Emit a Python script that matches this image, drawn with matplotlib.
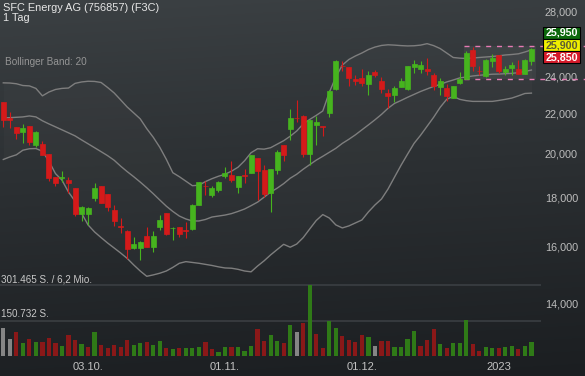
import matplotlib
matplotlib.use("Agg")
import matplotlib.pyplot as plt
import numpy as np
from matplotlib.patches import Rectangle
from matplotlib.ticker import FixedLocator, FuncFormatter, NullLocator

plt.rcParams['font.family'] = ['Liberation Sans', 'DejaVu Sans']

# daily candles, SFC Energy AG (F3C), mid Sept 2022 - early Jan 2023
open_ = [22580, 21720, 21270, 21030, 21330, 20380, 20420, 19950, 18880, 18860,
         18770, 18420, 17290, 17300, 17980, 18500, 18150, 17470, 16800, 16620,
         15970, 15970, 16430, 16010, 16790, 17340, 16720, 16780, 16660, 16710,
         17680, 18510, 18110, 18320, 18930, 18980, 18460, 18990, 19080, 19770,
         19210, 18190, 19200, 20380, 21180, 21760, 21830, 19950, 21370, 21320,
         22000, 23270, 24600, 24520, 23870, 23940, 23550, 24280, 23730, 23070,
         22960, 23420, 23310, 24520, 24440, 24460, 24060, 23400, 23340, 22800,
         23620, 23870, 25590, 24340, 24000, 24930, 25230, 24250, 24480, 24460,
         24150, 24930]
high = [22600, 22060, 21280, 21420, 21340, 21080, 20570, 19960, 18890, 19150,
        18880, 18430, 17650, 17590, 18610, 18510, 18160, 17660, 17130, 16640,
        16380, 16210, 16780, 16620, 17260, 17350, 16790, 16790, 16970, 17700,
        18680, 18720, 18500, 18720, 19330, 19650, 18940, 19250, 19910, 19780,
        19430, 19250, 20140, 20390, 22230, 22670, 21880, 21630, 21840, 21330,
        23220, 24990, 24930, 24530, 24110, 24440, 24290, 24380, 23980, 23310,
        23440, 23930, 24580, 24970, 24890, 25090, 24210, 23930, 23550, 23460,
        24270, 25530, 25730, 24590, 25000, 25330, 25240, 24590, 24850, 24990,
        25000, 25680]
low = [21280, 21220, 20700, 20510, 20380, 20270, 19900, 18710, 18480, 18680,
       18200, 17220, 17030, 16860, 17840, 17760, 17440, 16830, 16550, 15550,
       15910, 15510, 16000, 15820, 16660, 16470, 16270, 16380, 16330, 16660,
       17670, 18100, 18030, 18240, 18830, 18680, 18170, 18650, 19070, 17890,
       18030, 17400, 19010, 19650, 20630, 21520, 19820, 19430, 20410, 20830,
       21790, 23260, 24340, 23490, 23530, 23490, 22980, 23980, 23090, 22280,
       22580, 23410, 23220, 24210, 24210, 24060, 23250, 22940, 22630, 22790,
       23590, 23860, 24340, 24070, 23990, 24530, 24210, 24060, 24100, 24140,
       24140, 24690]
close = [21660, 21650, 20980, 21220, 20540, 21030, 19920, 18830, 18640, 18890,
         18640, 17300, 17590, 17560, 18420, 17770, 17580, 17030, 16780, 15920,
         16100, 16200, 16010, 16430, 17060, 16500, 16730, 16500, 16630, 17680,
         18670, 18490, 18400, 18670, 19080, 18760, 18930, 18960, 19900, 19160,
         18140, 19250, 20060, 19900, 21740, 21740, 19950, 21620, 21520, 21300,
         23210, 24890, 24580, 23900, 23730, 23620, 24060, 24060, 23290, 22890,
         23340, 23770, 24580, 24750, 24690, 24290, 23490, 23770, 22900, 23450,
         23830, 25360, 24590, 24320, 24990, 25090, 24340, 24420, 24650, 24150,
         24990, 25650]

bb_upper = [23640, 23630, 23590, 23490, 23470, 23330, 22920, 23130, 23270, 23330,
            23350, 23610, 23690, 23730, 23720, 23660, 23380, 23080, 22700, 22320,
            22010, 21700, 21200, 20770, 20280, 19710, 19090, 18910, 18710, 18510,
            18530, 18690, 18820, 18930, 19020, 19160, 19340, 19640, 20020, 20210,
            20190, 20260, 20430, 20600, 20820, 21080, 21440, 21670, 21880, 22110,
            23110, 23970, 24660, 24990, 25200, 25380, 25590, 25740, 25840, 25880,
            25860, 25830, 25810, 25820, 25860, 25950, 25830, 25650, 25380, 25110,
            25070, 25050, 25080, 25110, 25140, 25170, 25210, 25260, 25290, 25330,
            25440, 25570]
bb_mid = [21750, 21760, 21780, 21800, 21850, 21800, 21600, 21440, 21290, 21140,
          20990, 20840, 20640, 20450, 20260, 20070, 19880, 19665, 19390, 19140,
          18910, 18670, 18420, 18160, 17890, 17630, 17410, 17220, 17100, 17020,
          17020, 17080, 17180, 17220, 17260, 17320, 17410, 17510, 17650, 17800,
          18010, 18230, 18400, 18600, 18840, 19020, 19250, 19460, 19670, 19850,
          20040, 20230, 20470, 20670, 20890, 21140, 21390, 21650, 21930, 22250,
          22510, 22670, 22840, 23000, 23160, 23300, 23440, 23550, 23690, 23800,
          23920, 23970, 24030, 24070, 24100, 24130, 24140, 24160, 24180, 24220,
          24290, 24370]
bb_lower = [19700, 19820, 19920, 20140, 20210, 20220, 20090, 19620, 19050, 18755,
            18230, 17840, 17340, 16860, 16580, 16360, 16150, 15960, 15770, 15570,
            15330, 15110, 14920, 14970, 15030, 15110, 15240, 15390, 15450, 15420,
            15390, 15350, 15310, 15260, 15220, 15210, 15170, 15110, 15080, 15290,
            15480, 15700, 15900, 16100, 15990, 16110, 16360, 16700, 17040, 17280,
            17140, 16860, 16740, 16820, 16940, 17060, 17390, 17680, 17930, 18360,
            18890, 19430, 19950, 20470, 20870, 21320, 21780, 22300, 22730, 22890,
            22730, 22660, 22620, 22620, 22620, 22620, 22670, 22730, 22800, 22920,
            23050, 23070]

volume = [118900, 73500, 101900, 53900, 73500, 59400, 59400, 76400, 53900, 42500,
          87900, 66700, 51000, 36900, 101900, 48000, 32700, 45400, 39500, 67900,
          45400, 53900, 59400, 48000, 65000, 32700, 28400, 32700, 35200, 35200,
          39500, 59400, 29700, 17000, 36900, 39500, 36900, 22500, 42500, 113400,
          62400, 87900, 62400, 53900, 130400, 101900, 141400, 301465, 93400, 32700,
          147300, 118900, 86200, 66700, 58200, 90400, 81900, 41200, 62400, 63700,
          36900, 39500, 70900, 106200, 41200, 69200, 115900, 49700, 35200, 53900,
          53900, 152900, 49700, 22500, 36900, 35200, 32700, 39500, 41200, 28400,
          43700, 58200]
# close vs previous close: u = up, d = down, n = unchanged
vol_dir = ("nndududddu" "ddududdddd" "uuduududuu" "udduuduuud" "duudundudd"
           "uuddddundd" "uuuudddudu" "uudduuduud" "uu")
turnover = "6,2 Mio."

date_pos = [13, 34, 55, 76]
date_lbl = ['03.10.', '01.11.', '01.12.', '2023']
price_ticks = [14000, 16000, 18000, 20000, 22000, 24000, 28000]

box_start = 71
box_top, box_bottom = 25830, 23870

quotes = [25950, 25900, 25850]
quote_face = ['#0c680c', '#f0f000', '#d61b2b']
quote_text = ['white', '#5c5c33', 'white']

GREEN, RED = '#46b41e', '#d41a1a'
VCOL = {'u': '#2f7a17', 'd': '#8a1818', 'n': '#858585'}

W, H = 585, 376
STEP, X0 = 6.52, 3.3
fig = plt.figure(figsize=(W / 100, H / 100), dpi=100)

# background gradient
yy, xx = np.mgrid[0:H, 0:W]
t = np.clip(yy / H * 0.92 + xx / W * 0.08, 0, 1) ** 0.9
c0 = np.array([60, 65, 68]) / 255
c1 = np.array([27, 30, 33]) / 255
fig.figimage(c0 + (c1 - c0) * t[..., None], 0, 0, zorder=-10)

AX_W = 536 / W
x = np.arange(len(close))
xlim = (-X0 / STEP, (536 - X0) / STEP)

ax = fig.add_axes([0, 0, AX_W, 1])
ax.set_facecolor('none')
for s in ax.spines.values():
    s.set_visible(False)
ax.set_yscale('log')
ax.set_ylim(11770, 28790)
ax.set_xlim(*xlim)

# bollinger band 20
ax.fill_between(x, bb_lower, bb_upper, color='white', alpha=0.02, lw=0)
for band in (bb_upper, bb_mid, bb_lower):
    ax.plot(x, band, color='#7e7e7e', lw=1.0, zorder=2)

# consolidation box
x_end = (W - X0) / STEP
ax.fill_between([box_start - 0.35, xlim[1]], box_bottom, box_top,
                color='white', alpha=0.05, lw=0)
ax.hlines([box_top, box_bottom], box_start - 0.35, x_end, colors='#e67ab4',
          linestyles=(0, (3.6, 4.2)), lw=1.0, clip_on=False, zorder=2)

# candles
o, c = np.array(open_), np.array(close)
col = np.where(c >= o, GREEN, RED)
ax.vlines(x, low, high, colors=col, lw=0.8, zorder=3)
lo, hi = np.minimum(o, c), np.maximum(o, c)
ax.bar(x, hi - lo, bottom=lo, width=0.77, color=col, edgecolor=col,
       linewidth=0.5, zorder=4)

# axis ticks
ax.yaxis.tick_right()
ax.yaxis.set_major_locator(FixedLocator(price_ticks))
ax.yaxis.set_minor_locator(NullLocator())
ax.yaxis.set_major_formatter(FuncFormatter(lambda v, p: f"{v:,.0f}"))
ax.tick_params(axis='y', length=0, pad=30.2, labelsize=7.8, labelcolor='#bdbdbd')
ax.xaxis.set_major_locator(FixedLocator(date_pos))
ax.set_xticklabels(date_lbl)
ax.tick_params(axis='x', length=0, pad=-10.1, labelsize=8, labelcolor='#c2c2c2')
for lb in ax.get_yticklabels():
    lb.set_horizontalalignment('right')

# volume
vax = fig.add_axes([0, 0, AX_W, 1])
vax.set_facecolor('none')
vax.axis('off')
vax.set_xlim(*xlim)
vmax = max(volume)
vax.set_ylim(-20 / 71 * vmax, 356 / 71 * vmax)
vax.bar(x, volume, width=0.64, color=[VCOL[d] for d in vol_dir], lw=0)
line_end = (541 - X0) / STEP
vax.hlines([vmax, vmax / 2], xlim[0], line_end, colors='#3d4145', lw=1.1,
           clip_on=False, zorder=0)
fmt = lambda v: f"{int(round(v)):,}".replace(',', '.')
vax.annotate(f"{fmt(vmax)} S. / {turnover}", xy=(0, vmax), xycoords=('axes fraction', 'data'),
             xytext=(1, 2.5), textcoords='offset pixels', va='baseline',
             color='#c8c8c8', fontsize=7.1)
vax.annotate(f"{fmt(vmax / 2)} S.", xy=(0, vmax / 2), xycoords=('axes fraction', 'data'),
             xytext=(1, 3.3), textcoords='offset pixels', va='baseline',
             color='#c8c8c8', fontsize=7.1)

# header texts
fig.text(3 / W, 1 - 2.7 / H, "SFC Energy AG (756857) (F3C)", va='top', ha='left',
         color='#e6e6e6', fontsize=7.9)
fig.text(3 / W, 1 - 12.7 / H, "1 Tag", va='top', ha='left',
         color='#e6e6e6', fontsize=7.9)
fig.text(5 / W, 1 - 57.3 / H, "Bollinger Band: 20", va='top', ha='left',
         color='#959595', fontsize=7.2)

# quote boxes (ask / last / bid)
for k, (q, fc, tc) in enumerate(zip(quotes, quote_face, quote_text)):
    top = 26.5 + 12.2 * k
    fig.add_artist(Rectangle((543 / W, 1 - (top + 12) / H), 37 / W, 12 / H,
                             transform=fig.transFigure, facecolor=fc,
                             edgecolor='black', lw=0.8))
    fig.text(561.5 / W, 1 - (top + 6.3) / H, f"{q:,}", ha='center', va='center',
             color=tc, fontsize=7.7, fontweight='bold')

fig.savefig("out.png", dpi=100)
